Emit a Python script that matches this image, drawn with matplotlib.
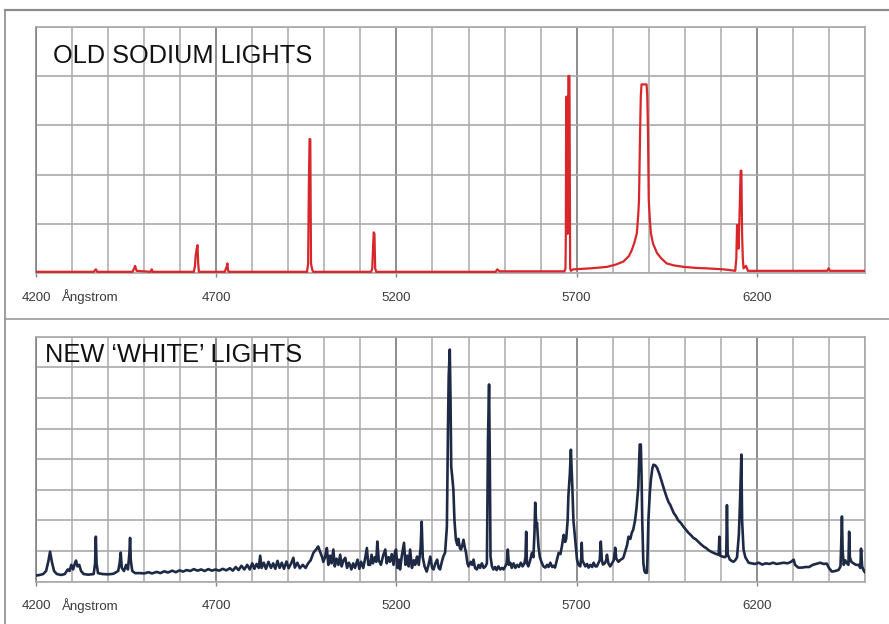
import matplotlib
matplotlib.use("Agg")
import matplotlib.pyplot as plt
from matplotlib.lines import Line2D

plt.rcParams['font.family'] = ['Liberation Sans', 'DejaVu Sans']

# ---------------- data ----------------
# Old sodium lamp spectrum (wavelength in Angstrom, relative intensity, 5 grid rows)
sodium_wl = [4200, 4360, 4366, 4370, 4468, 4472, 4475, 4479, 4518, 4521, 4524,
             4638, 4641, 4643, 4646, 4648, 4650, 4652, 4724, 4727, 4729, 4731, 4733, 4735,
             4952, 4955, 4957, 4959, 4961, 4963, 4966, 4969,
             5130, 5133, 5135, 5137, 5139, 5141, 5144, 5475, 5480, 5486,
             5666, 5669, 5670, 5671, 5673, 5675, 5677, 5680, 5682, 5684,
             5690, 5738, 5784, 5810, 5830, 5845, 5853, 5860, 5867, 5871, 5873, 5875, 5876,
             5878, 5880, 5888, 5894, 5896, 5898, 5900, 5903, 5906, 5912, 5923, 5935, 5950,
             5970, 5997, 6030, 6061, 6108, 6130, 6140, 6143, 6145, 6147, 6149, 6152, 6155,
             6157, 6159, 6161, 6163, 6170, 6175, 6395, 6399, 6403, 6500]
sodium_int = [0.03, 0.03, 0.08, 0.03, 0.03, 0.10, 0.15, 0.05, 0.03, 0.08, 0.03,
              0.03, 0.15, 0.36, 0.50, 0.57, 0.20, 0.03, 0.03, 0.10, 0.13, 0.20, 0.05, 0.03,
              0.03, 0.20, 1.76, 2.72, 2.72, 0.20, 0.08, 0.03,
              0.03, 0.10, 0.50, 0.83, 0.80, 0.10, 0.03, 0.03, 0.08, 0.04,
              0.04, 0.10, 0.81, 3.58, 3.58, 0.80, 4.00, 4.00, 0.10, 0.05,
              0.08, 0.10, 0.13, 0.18, 0.24, 0.35, 0.47, 0.62, 0.81, 1.20, 1.49, 2.40, 2.84,
              3.60, 3.83, 3.83, 3.83, 3.60, 2.84, 1.49, 1.10, 0.81, 0.60, 0.41, 0.30, 0.20,
              0.16, 0.13, 0.11, 0.10, 0.08, 0.06, 0.05, 0.30, 0.98, 0.98, 0.50, 1.20, 2.08,
              2.08, 0.80, 0.30, 0.10, 0.15, 0.05, 0.05, 0.10, 0.05, 0.05]

# New "white" lamp spectrum (8 grid rows)
white_wl = [4200, 4210, 4220, 4228, 4234, 4239, 4244, 4250, 4258, 4270, 4280, 4288, 4293,
            4298, 4303, 4308, 4311, 4315, 4320, 4325, 4332, 4345, 4360, 4364, 4366, 4368,
            4372, 4385, 4400, 4415, 4428, 4432, 4435, 4438, 4444, 4450, 4455, 4459, 4461,
            4463, 4467, 4475, 4490,
            4500, 4512, 4522, 4535, 4545, 4556, 4566, 4578, 4588, 4598, 4608, 4618, 4628,
            4638, 4648, 4658, 4668, 4678, 4688, 4698, 4708, 4718, 4728, 4738, 4746, 4754,
            4762, 4770, 4778, 4786, 4793, 4800, 4806, 4812, 4818, 4822, 4826, 4832, 4838,
            4845, 4852, 4858, 4864, 4870, 4876, 4882, 4888, 4895, 4901, 4908, 4914, 4918,
            4925, 4932, 4940, 4948, 4955, 4962, 4970, 4977, 4983, 4989, 4994, 4997, 5002,
            5007, 5011, 5016, 5020, 5025, 5029, 5034, 5039, 5044, 5048, 5053, 5058, 5063,
            5068, 5071, 5075, 5080, 5085, 5092, 5097, 5102, 5108, 5113, 5118, 5122, 5127,
            5131, 5135, 5140, 5144, 5147, 5151, 5157, 5163, 5169, 5173, 5178, 5182, 5187,
            5192, 5196, 5199, 5203, 5207, 5210, 5215, 5221, 5225, 5230, 5234, 5238, 5243,
            5248, 5252, 5257, 5262, 5267, 5270, 5273, 5278, 5284, 5289, 5294, 5299, 5303,
            5308, 5313, 5317, 5321, 5326, 5330, 5335, 5340, 5343, 5345, 5348, 5350, 5352,
            5355, 5358, 5361, 5365, 5369, 5372, 5376, 5379, 5383, 5386, 5390, 5393, 5397,
            5400, 5406, 5410, 5414, 5418, 5423, 5428, 5432, 5437, 5442, 5447, 5451, 5454,
            5457, 5459, 5461, 5465, 5469, 5474, 5478, 5483, 5488, 5493, 5497, 5502, 5506,
            5509, 5512, 5516, 5520, 5525, 5530, 5535, 5540, 5545, 5550, 5555, 5558, 5560,
            5562, 5566, 5571, 5576, 5580, 5583, 5585, 5588, 5590, 5594, 5598, 5603, 5608,
            5613, 5618, 5622, 5627, 5632, 5636, 5640, 5645, 5650, 5655, 5659, 5664, 5668,
            5671, 5675, 5677, 5681, 5684, 5688, 5691, 5694, 5696, 5699, 5701, 5705, 5710,
            5713, 5714, 5716, 5719, 5724, 5729, 5733, 5738, 5743, 5747, 5752, 5756, 5760,
            5764, 5767, 5770, 5773, 5778, 5782, 5784, 5788, 5793, 5798, 5803, 5807, 5810,
            5816, 5822, 5827, 5830, 5835, 5840, 5844, 5849, 5853, 5857, 5862, 5866, 5871,
            5875, 5878, 5880, 5882, 5885, 5888, 5891, 5895, 5897, 5899, 5903, 5906, 5910,
            5913, 5918, 5923, 5930, 5937, 5943, 5950, 5955, 5960, 5969, 5975, 5982, 5989,
            5996, 6003, 6010, 6017, 6024, 6031, 6038, 6045, 6052, 6059, 6066, 6073, 6080,
            6088, 6094, 6096, 6098, 6105, 6112, 6115, 6117, 6119, 6125, 6130, 6135, 6140,
            6145, 6150, 6153, 6157, 6159, 6163, 6168, 6177, 6185, 6195, 6205, 6215, 6225,
            6235, 6245, 6255, 6265, 6275, 6285, 6295, 6302, 6306, 6315, 6325, 6335, 6345,
            6355, 6367, 6376, 6385, 6394, 6400, 6408, 6418, 6427, 6432, 6434, 6436, 6438,
            6441, 6445, 6450, 6454, 6456, 6458, 6462, 6468, 6475, 6482, 6487, 6489, 6492,
            6497, 6500]
white_int = [0.20, 0.22, 0.25, 0.35, 0.65, 0.98, 0.65, 0.35, 0.25, 0.22, 0.25, 0.40, 0.35,
             0.55, 0.40, 0.60, 0.69, 0.50, 0.55, 0.35, 0.25, 0.23, 0.25, 0.60, 1.47, 0.60,
             0.28, 0.25, 0.24, 0.26, 0.35, 0.60, 0.95, 0.45, 0.35, 0.55, 0.40, 0.90, 1.43,
             0.70, 0.35, 0.28, 0.28,
             0.27, 0.31, 0.27, 0.32, 0.28, 0.34, 0.30, 0.36, 0.31, 0.37, 0.33, 0.38, 0.35,
             0.41, 0.36, 0.40, 0.35, 0.41, 0.36, 0.40, 0.36, 0.42, 0.37, 0.44, 0.36, 0.48,
             0.38, 0.52, 0.40, 0.55, 0.40, 0.60, 0.42, 0.58, 0.45, 0.85, 0.45, 0.62, 0.42,
             0.65, 0.45, 0.60, 0.42, 0.68, 0.45, 0.62, 0.42, 0.66, 0.44, 0.60, 0.78, 0.46,
             0.62, 0.44, 0.55, 0.45, 0.60, 0.70, 0.95, 1.05, 1.15, 0.95, 0.80, 0.65, 0.80,
             1.10, 0.55, 0.85, 0.60, 1.05, 0.50, 0.75, 0.55, 0.88, 0.50, 0.70, 0.78, 0.45,
             0.62, 0.55, 0.40, 0.60, 0.45, 0.72, 0.42, 0.65, 0.45, 0.75, 1.10, 0.55, 0.55,
             0.88, 0.60, 0.80, 0.65, 1.31, 0.70, 0.55, 0.85, 1.05, 0.60, 0.80, 0.65, 0.90,
             0.55, 0.98, 1.05, 0.45, 0.72, 0.40, 0.85, 1.27, 0.55, 0.85, 0.50, 1.05, 0.45,
             0.70, 0.55, 0.82, 0.55, 1.10, 1.96, 0.80, 0.50, 0.33, 0.55, 0.82, 0.45, 0.40,
             0.60, 0.72, 0.45, 0.40, 0.65, 0.82, 0.95, 1.80, 5.00, 6.70, 7.58, 6.00, 3.76,
             3.40, 3.00, 2.00, 1.37, 1.20, 1.40, 1.10, 1.05, 1.20, 1.37, 1.10, 0.95, 0.60,
             0.50, 0.65, 0.55, 0.72, 0.45, 0.40, 0.55, 0.45, 0.60, 0.45, 0.50, 0.60, 4.64,
             6.44, 4.00, 0.82, 0.50, 0.40, 0.48, 0.38, 0.50, 0.40, 0.45, 0.40, 0.50, 0.60,
             1.05, 0.55, 0.62, 0.45, 0.60, 0.45, 0.55, 0.48, 0.62, 0.50, 0.60, 0.80, 1.63,
             0.60, 0.50, 0.70, 0.94, 0.80, 1.60, 2.58, 1.80, 1.92, 1.15, 0.80, 0.62, 0.50,
             0.46, 0.55, 0.48, 0.62, 0.48, 0.52, 0.46, 0.70, 0.94, 0.90, 1.15, 1.53, 1.30,
             1.40, 2.00, 2.78, 3.50, 4.31, 3.10, 2.00, 1.60, 1.37, 1.00, 0.72, 0.55, 0.50,
             0.80, 1.27, 0.70, 0.62, 0.50, 0.58, 0.46, 0.55, 0.48, 0.62, 0.50, 0.50, 0.60,
             0.70, 1.31, 0.70, 0.56, 0.60, 0.70, 0.88, 0.60, 0.50, 0.60, 0.70, 1.11, 0.75,
             0.65, 0.72, 0.75, 0.80, 1.00, 1.20, 1.47, 1.40, 1.60, 1.70, 2.00, 2.40, 3.10,
             4.48, 4.48, 3.50, 2.00, 0.62, 0.35, 0.29, 0.29, 1.00, 2.00, 2.90, 3.33, 3.70,
             3.82, 3.80, 3.72, 3.50, 3.23, 3.00, 2.75, 2.60, 2.50, 2.25, 2.15, 2.00, 1.92,
             1.80, 1.70, 1.60, 1.52, 1.43, 1.38, 1.30, 1.22, 1.15, 1.10, 1.03, 0.98, 0.94,
             0.90, 0.88, 1.47, 0.85, 0.82, 0.80, 0.85, 2.50, 0.90, 0.72, 0.68, 0.65, 0.70,
             0.80, 1.53, 2.50, 4.15, 2.00, 1.05, 0.80, 0.62, 0.60, 0.58, 0.62, 0.56, 0.60,
             0.58, 0.62, 0.58, 0.60, 0.62, 0.60, 0.65, 0.72, 0.55, 0.46, 0.46, 0.48, 0.48,
             0.55, 0.59, 0.62, 0.58, 0.59, 0.45, 0.33, 0.35, 0.39, 0.50, 1.20, 2.13, 1.00,
             0.55, 0.70, 0.60, 0.55, 1.63, 0.80, 0.65, 0.60, 0.55, 0.55, 0.45, 1.08, 0.50,
             0.35, 0.31]

major_ticks = [4200, 4700, 5200, 5700, 6200]
major_labels = ["4200", "4700", "5200", "5700", "6200"]
unit_label = "Ångstrom"
titles = ["OLD SODIUM LIGHTS", "NEW \u2018WHITE\u2019 LIGHTS"]

# ---------------- figure ----------------
W, H = 889, 624
fig = plt.figure(figsize=(W / 100, H / 100), dpi=100)
fig.patch.set_facecolor('white')

def px_rect(x0, y0, x1, y1):
    return [x0 / W, 1 - y1 / H, (x1 - x0) / W, (y1 - y0) / H]

ax1 = fig.add_axes(px_rect(36, 26.7, 865, 273.3))
ax2 = fig.add_axes(px_rect(36, 336.7, 865, 581.7))

grid_minor = '#a9a9a9'
grid_major = '#858585'
label_col = '#3a3a3a'
TICK_LEN = 3
TICK_PAD = 10.5

def style(ax, nrows):
    ax.set_xlim(4200, 6500)
    ax.set_ylim(0, nrows)
    ax.set_axisbelow(True)
    ax.set_xticks(list(range(4200, 6501, 100)), minor=True)
    ax.set_xticks(major_ticks)
    ax.set_xticklabels(major_labels)
    ax.set_yticks(list(range(0, nrows + 1)))
    ax.tick_params(axis='y', length=0, labelleft=False)
    ax.tick_params(axis='x', which='minor', length=0)
    ax.tick_params(axis='x', which='major', length=TICK_LEN, width=1.0, color=grid_major,
                   pad=TICK_PAD, labelsize=9.5, labelcolor=label_col)
    ax.grid(axis='x', which='minor', color=grid_minor, lw=1.1)
    ax.grid(axis='x', which='major', color=grid_major, lw=1.3)
    ax.grid(axis='y', which='major', color=grid_minor, lw=1.2)
    for s in ax.spines.values():
        s.set_color(grid_minor)
        s.set_linewidth(1.2)
    ax.spines['left'].set_color(grid_major)
    ax.annotate(unit_label, xy=(4272, 0), xycoords=('data', 'axes fraction'),
                xytext=(0, -(TICK_LEN + TICK_PAD) + 2.0), textcoords='offset points',
                ha='left', va='top', fontsize=9.5, color=label_col)

style(ax1, 5)
style(ax2, 8)

ax1.plot(sodium_wl, sodium_int, color='#d8262b', lw=1.6, zorder=3)
ax2.plot(white_wl, white_int, color='#1e2945', lw=1.9, zorder=3)

# titles
fig.text(53 / W, 1 - 63 / H, titles[0], fontsize=18.3, color='#111111',
         ha='left', va='baseline')
fig.text(45 / W, 1 - 361.5 / H, titles[1], fontsize=18.3, color='#111111',
         ha='left', va='baseline')

# outer frame lines
frame_col = '#8c8c8c'
fig.add_artist(Line2D([5 / W, 1.0], [1 - 10 / H, 1 - 10 / H], color=frame_col, lw=1.6))
fig.add_artist(Line2D([5 / W, 5 / W], [1 - 10 / H, 0.0], color=frame_col, lw=1.2))
fig.add_artist(Line2D([5 / W, 1.0], [1 - 318.5 / H, 1 - 318.5 / H], color='#9a9a9a', lw=1.2))

fig.savefig('out.png', dpi=100, facecolor='white')
